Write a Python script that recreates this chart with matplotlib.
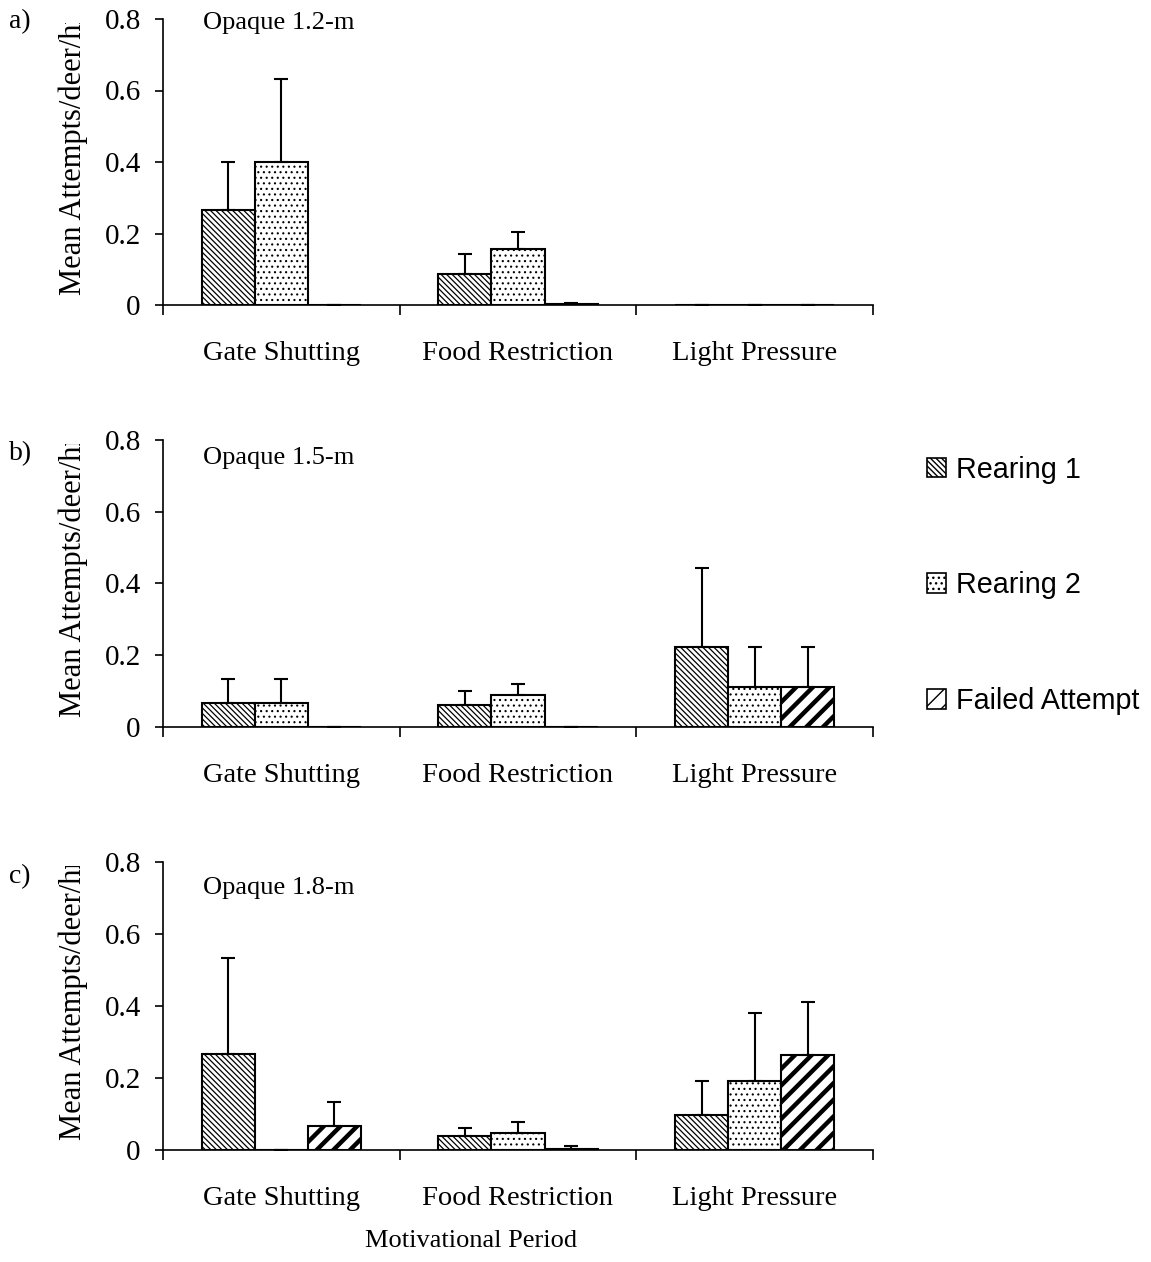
import matplotlib
matplotlib.use("Agg")
import matplotlib.pyplot as plt
import numpy as np
from matplotlib.patches import Patch
from matplotlib.transforms import Bbox

categories = ["Gate Shutting", "Food Restriction", "Light Pressure"]
series = ["Rearing 1", "Rearing 2", "Failed Attempt"]
panel_titles = ["Opaque 1.2-m", "Opaque 1.5-m", "Opaque 1.8-m"]
panel_tags = ["a)", "b)", "c)"]

# means [panel][series][category]
a_means = [[0.267, 0.087, 0.0], [0.400, 0.157, 0.0], [0.0, 0.003, 0.0]]
a_err = [[0.133, 0.056, 0.0], [0.233, 0.046, 0.0], [0.0, 0.002, 0.0]]
b_means = [[0.067, 0.062, 0.222], [0.067, 0.090, 0.111], [0.0, 0.0, 0.111]]
b_err = [[0.066, 0.038, 0.222], [0.066, 0.030, 0.111], [0.0, 0.0, 0.111]]
c_means = [[0.267, 0.040, 0.096], [0.0, 0.047, 0.193], [0.067, 0.004, 0.263]]
c_err = [[0.266, 0.022, 0.096], [0.0, 0.031, 0.188], [0.066, 0.008, 0.147]]

yticks = [0, 0.2, 0.4, 0.6, 0.8]
ytick_labels = ["0", "0.2", "0.4", "0.6", "0.8"]

hatches = ["\\\\\\\\\\\\", "...", "//"]
hatch_lw = [0.9, 0.8, 3.2]

serif = ["Liberation Serif", "DejaVu Serif"]
sans = ["Liberation Sans", "DejaVu Sans"]

W, H = 1151, 1262
fig = plt.figure(figsize=(W / 100, H / 100), dpi=100)

def fx(px):
    return px / W

def fy(py):
    return 1 - py / H

panels = [(a_means, a_err, 19, 305, 23, 22), (b_means, b_err, 440, 727, 458, 454),
          (c_means, c_err, 862, 1150, 888, 877)]
left, right = 163, 873
bw = 0.224

for i, (means, errs, top, bot, title_y, tag_y) in enumerate(panels):
    ax = fig.add_axes([fx(left), fy(bot), fx(right - left), (bot - top) / H])
    x = np.arange(len(categories)) + 0.5
    for s in range(3):
        with plt.rc_context({"hatch.linewidth": hatch_lw[s]}):
            bars = ax.bar(x + (s - 1) * bw, means[s], width=bw, color="white",
                          edgecolor="black", linewidth=1.5, hatch=hatches[s], zorder=2)
            for b in bars:
                if hasattr(b, "set_hatch_linewidth"):
                    b.set_hatch_linewidth(hatch_lw[s])
        ax.errorbar(x + (s - 1) * bw, means[s], yerr=[np.zeros(3), errs[s]], fmt="none",
                    ecolor="black", elinewidth=1.5, capsize=5, capthick=1.5, zorder=3)
    ax.set_xlim(0, 3)
    ax.set_ylim(0, 0.8)
    ax.spines["top"].set_visible(False)
    ax.spines["right"].set_visible(False)
    ax.spines["left"].set_linewidth(1.2)
    ax.spines["bottom"].set_linewidth(1.2)
    ax.set_yticks(yticks)
    ax.set_yticklabels(ytick_labels, fontfamily=serif, fontsize=21)
    ax.tick_params(axis="y", direction="out", length=6, width=1.2, pad=10)
    ax.set_xticks([0, 1, 2, 3])
    ax.set_xticklabels([])
    ax.tick_params(axis="x", which="major", direction="out", length=7.5, width=1.2)
    ax.set_xticks(x, minor=True)
    ax.set_xticklabels(categories, minor=True, fontfamily=serif, fontsize=20.5)
    ax.tick_params(axis="x", which="minor", length=0, pad=26)
    # y label, clipped at top like the original
    ylab = fig.text(fx(73), fy(bot - 10), "Mean Attempts/deer/hr", rotation=90,
                    ha="center", va="bottom", fontfamily=serif, fontsize=22)
    ylab.set_clip_box(Bbox.from_extents(0, 0, W, fy(top + 4) * H))
    fig.text(fx(203), fy(title_y), panel_titles[i], ha="left", va="center",
             fontfamily=serif, fontsize=19)
    fig.text(fx(9), fy(tag_y), panel_tags[i], ha="left", va="center",
             fontfamily=serif, fontsize=20)

fig.text(fx(471), fy(1241), "Motivational Period", ha="center", va="center",
         fontfamily=serif, fontsize=19)

handles = []
for s in range(3):
    with plt.rc_context({"hatch.linewidth": hatch_lw[s]}):
        p = Patch(facecolor="white", edgecolor="black", hatch=hatches[s], linewidth=1.2, label=series[s])
        if hasattr(p, "set_hatch_linewidth"):
            p.set_hatch_linewidth(hatch_lw[s])
    handles.append(p)
leg = fig.legend(handles=handles, loc="upper left", bbox_to_anchor=(fx(915), fy(444)),
                 frameon=False, prop={"family": sans, "size": 20.7}, labelspacing=3.05,
                 handlelength=0.68, handleheight=0.68, handletextpad=0.35, borderaxespad=0)

fig.savefig("out.png", dpi=100)
